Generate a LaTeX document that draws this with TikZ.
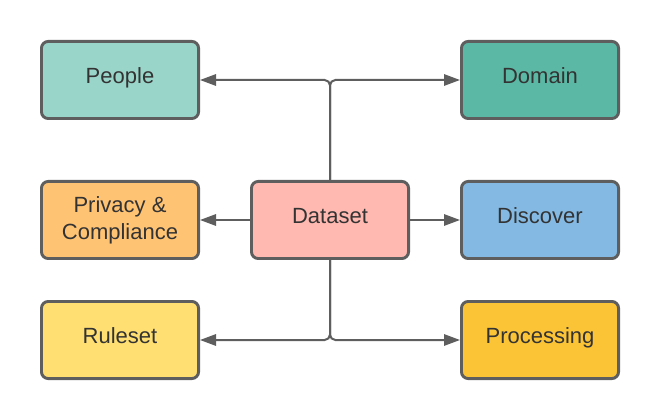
\documentclass[tikz,border=0pt]{standalone}
\usepackage{fontspec}
\setmainfont{Liberation Sans}
\usetikzlibrary{arrows.meta, positioning}
\definecolor{mBorder}{HTML}{5E5E5E}
\definecolor{mText}{HTML}{333333}
\definecolor{mPeople}{HTML}{9AD5CA}
\definecolor{mDomain}{HTML}{5BB8A5}
\definecolor{mPrivacy}{HTML}{FFC374}
\definecolor{mDataset}{HTML}{FFB9B1}
\definecolor{mDiscover}{HTML}{83B9E3}
\definecolor{mRuleset}{HTML}{FFDF72}
\definecolor{mProcessing}{HTML}{FBC437}

\tikzset{
  box/.style={draw=mBorder, line width=2.2pt, rounded corners=5pt,
    minimum width=117.8pt, minimum height=57.8pt, align=center,
    text=mText, font=\fontsize{16.5}{20}\selectfont},
  oneline/.style={text height=9.5pt, text depth=3.8pt},
  link/.style={draw=mBorder, line width=1.5pt,
    -{Triangle[length=12pt,width=8.5pt]}},
}

\begin{document}
\begin{tikzpicture}[x=0.75pt, y=-0.75pt]
    \useasboundingbox (0,0) rectangle (660,420);
    % centre box
    \node[box, oneline, fill=mDataset] (dataset) at (330,220) {Dataset};
    % left column
    \node[box, oneline, fill=mPeople] (people) at (120,80) {People};
    \node[box, fill=mPrivacy] (privacy) at (120,220) {Privacy \&\\Compliance};
    \node[box, oneline, fill=mRuleset] (ruleset) at (120,340) {Ruleset};
    % right column
    \node[box, oneline, fill=mDomain] (domain) at (540,80) {Domain};
    \node[box, oneline, fill=mDiscover] (discover) at (540,220) {Discover};
    \node[box, oneline, fill=mProcessing] (processing) at (540,340) {Processing};

    \draw[link, rounded corners=4pt] (dataset.north) |- (people.east);
    \draw[link, rounded corners=4pt] (dataset.north) |- (domain.west);
    \draw[link] (dataset.west) -- (privacy.east);
    \draw[link] (dataset.east) -- (discover.west);
    \draw[link, rounded corners=4pt] (dataset.south) |- (ruleset.east);
    \draw[link, rounded corners=4pt] (dataset.south) |- (processing.west);
\end{tikzpicture}
\end{document}
